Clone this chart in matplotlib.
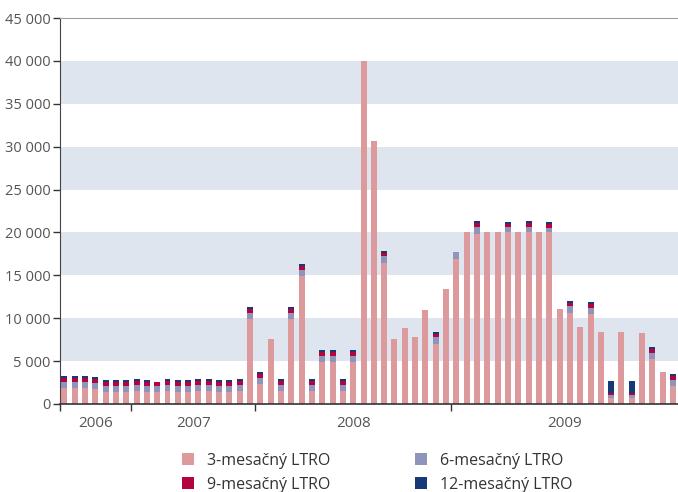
import numpy as np
import matplotlib.pyplot as plt
from matplotlib.ticker import FuncFormatter, FixedLocator

plt.rcParams["font.family"] = ["Open Sans", "DejaVu Sans"]

# LTRO allotments per operation, grouped by year
years = ["2006", "2007", "2008", "2009"]
ops_per_year = [7, 12, 19, 22]

ltro_3m = [1860, 1860, 1860, 1750, 1400, 1400, 1400,
           1520, 1400, 1400, 1520, 1400, 1400, 1520, 1450, 1400, 1400, 1520, 9900,
           2370, 7580, 1520, 9900, 14920, 1520, 4900, 4900, 1520, 4860, 40000, 30700,
           16480, 7580, 8860, 7810, 10960, 7000, 13400,
           16900, 20000, 19860, 20000, 20000, 20000, 20000, 20000, 20000, 20000, 11080,
           10610, 8980, 10490, 8390, 700, 8390, 700, 8280, 5250, 3730, 2100]
ltro_6m = [700, 700, 700, 700, 700, 700, 700,
           700, 700, 700, 700, 700, 700, 700, 700, 700, 700, 700, 700,
           660, 0, 700, 700, 700, 700, 700, 700, 700, 740, 0, 0,
           780, 0, 0, 0, 0, 810, 0,
           820, 0, 770, 0, 0, 630, 0, 630, 0, 520, 0,
           820, 0, 700, 0, 350, 0, 350, 0, 700, 0, 700]
ltro_9m = [500, 500, 500, 470, 500, 500, 500,
           470, 500, 470, 470, 500, 500, 470, 470, 500, 500, 470, 470,
           500, 0, 470, 470, 500, 470, 500, 500, 470, 500, 0, 0,
           310, 0, 0, 0, 0, 310, 0,
           0, 0, 470, 0, 0, 350, 0, 470, 0, 470, 0,
           350, 0, 470, 0, 230, 0, 230, 0, 470, 0, 470]
ltro_12m = [230, 230, 230, 270, 200, 200, 200,
            230, 200, 0, 230, 200, 200, 230, 230, 200, 200, 230, 230,
            200, 0, 230, 230, 200, 230, 200, 200, 230, 200, 0, 0,
            270, 0, 0, 0, 0, 270, 0,
            0, 0, 230, 0, 0, 230, 0, 230, 0, 230, 0,
            230, 0, 230, 0, 1400, 0, 1400, 0, 230, 0, 230]

series = [
    ("3-mesačný LTRO", ltro_3m, "#dc9a9c"),
    ("6-mesačný LTRO", ltro_6m, "#8f94bb"),
    ("9-mesačný LTRO", ltro_9m, "#b4043f"),
    ("12-mesačný LTRO", ltro_12m, "#163a78"),
]

fig = plt.figure(figsize=(6.78, 4.92), dpi=100)
ax = fig.add_axes([0.0885, 0.179, 0.9115, 0.7844])

x = np.arange(len(ltro_3m))
bottom = np.zeros(len(x))
handles = []
for label, vals, color in series:
    vals = np.array(vals, dtype=float)
    h = ax.bar(x, vals, width=0.58, bottom=bottom, color=color, label=label,
               linewidth=0, zorder=2)
    handles.append(h)
    bottom += vals

# alternating horizontal bands
for lo in range(5000, 45000, 10000):
    ax.axhspan(lo, lo + 5000, color="#dfe5ee", lw=0, zorder=0)

ax.set_ylim(0, 45000)
ax.set_xlim(-0.42, 59.48)
ax.set_yticks(range(0, 45001, 5000))
ax.yaxis.set_major_formatter(FuncFormatter(lambda v, p: f"{int(v):,}".replace(",", " ")))

# year separators as major ticks, year names centred between them
bounds = np.cumsum(ops_per_year) - 0.5
edges = [-0.42] + list(bounds[:-1])
right_edges = list(bounds[:-1]) + [59.48]
ax.xaxis.set_major_locator(FixedLocator(edges))
ax.xaxis.set_major_formatter(FuncFormatter(lambda v, p: ""))
ax.xaxis.set_minor_locator(FixedLocator([(a + b) / 2 for a, b in zip(edges, right_edges)]))
ax.set_xticklabels(years, minor=True)

ax.tick_params(axis="x", which="major", length=5, width=1, color="#333333", direction="out")
ax.tick_params(axis="x", which="minor", length=0, pad=9, labelsize=11, labelcolor="#555555")
ax.tick_params(axis="y", length=5, width=1, color="#333333", pad=2, labelsize=10.5,
               labelcolor="#555555")

ax.spines["right"].set_visible(False)
ax.spines["top"].set_color("#a0a0a0")
ax.spines["top"].set_linewidth(0.8)
ax.spines["left"].set_color("#444444")
ax.spines["bottom"].set_color("#333333")
ax.spines["bottom"].set_linewidth(1.2)

fig.legend(handles=[handles[0], handles[2], handles[1], handles[3]],
           labels=[series[0][0], series[2][0], series[1][0], series[3][0]],
           ncol=2, loc="upper left", bbox_to_anchor=(0.269, 0.08),
           frameon=False, fontsize=11.5, handlelength=0.75, handleheight=0.75,
           handletextpad=0.8, columnspacing=5.3, labelspacing=0.5,
           labelcolor="#333333", borderpad=0, borderaxespad=0)

fig.savefig("out.png", dpi=100)
